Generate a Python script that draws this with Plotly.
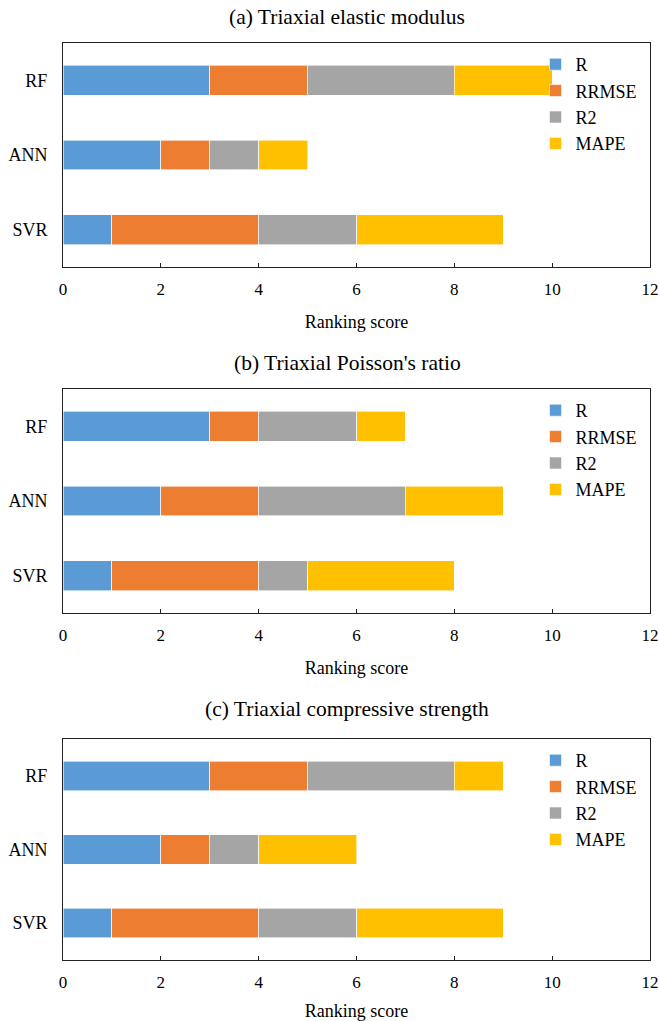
import plotly.graph_objects as go

models = ["RF", "ANN", "SVR"]
metrics = ["R", "RRMSE", "R2", "MAPE"]
colors = ["#5B9BD5", "#ED7D31", "#A5A5A5", "#FFC000"]

# (a) Triaxial elastic modulus
a_R = [3, 2, 1]
a_RRMSE = [2, 1, 3]
a_R2 = [3, 1, 2]
a_MAPE = [2, 1, 3]
# (b) Triaxial Poisson's ratio
b_R = [3, 2, 1]
b_RRMSE = [1, 2, 3]
b_R2 = [2, 3, 1]
b_MAPE = [1, 2, 3]
# (c) Triaxial compressive strength
c_R = [3, 2, 1]
c_RRMSE = [2, 1, 3]
c_R2 = [3, 1, 2]
c_MAPE = [1, 2, 3]

titles = ["(a) Triaxial elastic modulus", "(b) Triaxial Poisson's ratio",
          "(c) Triaxial compressive strength"]
x_ticks = [0, 2, 4, 6, 8, 10, 12]

panels = [
    [a_R, a_RRMSE, a_R2, a_MAPE],
    [b_R, b_RRMSE, b_R2, b_MAPE],
    [c_R, c_RRMSE, c_R2, c_MAPE],
]

H = 1021.0
# plot-area pixel extents (top, bottom)
extents = [(43, 267), (389, 613), (739, 960)]
title_y = [17, 363, 709]

FONT = "Liberation Serif"
fig = go.Figure()

for p, vals in enumerate(panels):
    sfx = "" if p == 0 else str(p + 1)
    leg = "legend" + sfx
    for m, (name, col) in enumerate(zip(metrics, colors)):
        fig.add_trace(go.Bar(
            x=vals[m], y=models, orientation="h", name=name,
            marker=dict(color=col, line=dict(color="white", width=0.6)),
            xaxis="x" + sfx, yaxis="y" + sfx,
            legend=leg, legendgroup=f"{p}_{name}",
        ))

layout = dict(
    width=659, height=1021,
    margin=dict(l=63, r=9, t=0, b=0),
    paper_bgcolor="white", plot_bgcolor="white",
    font=dict(family=FONT, color="black", size=17),
    barmode="stack", bargap=0.6,
    annotations=[],
)

for p in range(3):
    sfx = "" if p == 0 else str(p + 1)
    top, bot = extents[p]
    dom = [1 - bot / H, 1 - top / H]
    layout["xaxis" + sfx] = dict(
        domain=[0, 1], anchor="y" + sfx, range=[0, 12],
        tickvals=x_ticks, ticktext=[str(t) for t in x_ticks],
        showline=True, linecolor="#222", linewidth=1, mirror=True,
        ticks="inside", ticklen=4, tickcolor="#222",
        showgrid=False, zeroline=False, fixedrange=True,
        tickfont=dict(size=17), ticklabelstandoff=7,
        title=dict(text="Ranking score", font=dict(size=18), standoff=16),
    )
    layout["yaxis" + sfx] = dict(
        domain=dom, anchor="x" + sfx, type="category",
        categoryorder="array", categoryarray=models[::-1],
        range=[-0.5, 2.5], fixedrange=True,
        showline=True, linecolor="#222", linewidth=1, mirror=True,
        ticks="", showgrid=False, zeroline=False,
        ticklabelstandoff=11, tickfont=dict(size=18),
    )
    layout["legend" + sfx] = dict(
        x=0.805, xanchor="left", xref="paper",
        y=1 - (top + 3) / H, yanchor="top", yref="paper",
        traceorder="grouped", tracegroupgap=0,
        bgcolor="rgba(0,0,0,0)", font=dict(size=18),
    )
    layout["annotations"].append(dict(
        text=titles[p], x=(347 - 63) / 587, xref="paper", y=1 - title_y[p] / H,
        yref="paper", yanchor="middle", xanchor="center",
        showarrow=False, font=dict(size=21.5),
    ))

fig.update_layout(**layout)
fig.write_html("out.html", config={"displayModeBar": False})

# remove the browser's default 8px body margin so the figure sits at (0,0)
with open("out.html", "r", encoding="utf-8") as f:
    html = f.read()
html = html.replace("<head>", "<head><style>html,body{margin:0;padding:0;}</style>", 1)
with open("out.html", "w", encoding="utf-8") as f:
    f.write(html)
